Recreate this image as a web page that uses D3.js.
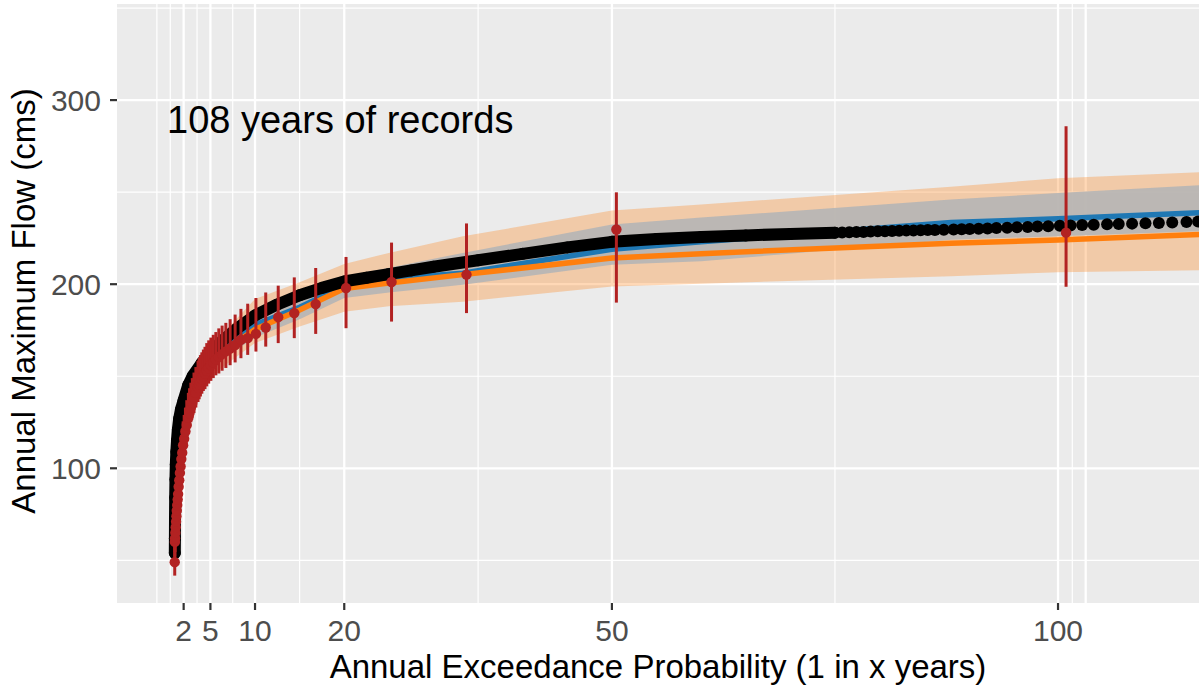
<!DOCTYPE html>
<html>
<head>
<meta charset="utf-8">
<script src="https://cdn.jsdelivr.net/npm/d3@7"></script>
<style>
  body { margin: 0; background: #fff; }
  text { font-family: "Liberation Sans", Arial, sans-serif; }
</style>
</head>
<body>
<svg id="chart" width="1199" height="698"></svg>
<script>
/* axis breaks */
var xBreaks = [2, 5, 10, 20, 50, 100];
var xExtraMajor = [103.1];
var xMinor = [-1, 0.5, 3.5, 7.5, 15, 35, 75, 101.6];
var yBreaks = [100, 200, 300];
var yMinor = [50, 150, 250, 350];

/* fitted curve + confidence bands, at these return periods */
var bandT   = [2, 5, 10, 15, 20, 25, 33.3, 50, 60, 88, 100, 117];
var peachHi = [140, 166, 192, 201, 211, 217, 226, 240, 243.3, 253, 257.5, 261];
var peachLo = [126, 150, 168, 177, 185, 188, 190.5, 198.8, 200.3, 204.3, 206.5, 207.6];
var grayHi  = [138, 164, 185, 194, 204, 209, 217, 232.4, 236.2, 246, 249.5, 254];
var grayLo  = [130, 155, 171, 181, 192.5, 195.5, 199.7, 210.6, 212.4, 224.2, 226, 229];
var blueQ   = [137, 162, 178, 187.5, 199, 203, 206, 219, 223, 233.5, 235.5, 239];
var orangeQ = [134, 159, 175.5, 186, 197.7, 200.6, 205.2, 214.2, 216.6, 222.3, 224, 227.2];

/* black points (return period, flow) */
var blackT = [1.01, 1.02, 1.03, 1.05, 1.08, 1.12, 1.18, 1.25, 1.35, 1.5, 1.7, 2, 2.5, 3, 4, 5, 6.5, 8, 10,
  12.5, 15, 17.5, 20, 22.5, 25, 27.5, 30, 35, 40, 45, 50, 55, 60, 65, 70, 75,
  75.8, 76.6, 77.4, 78.2, 79.0, 79.8, 80.6, 81.4, 82.2, 83.0, 83.8, 84.6, 85.4, 86.2, 87.2,
  88.3, 89.2, 90.1, 91.1, 92.1, 93.1, 94.3, 95.4, 96.6, 97.7, 98.9, 100.2, 101.4, 102.7,
  104.0, 105.5, 106.8, 108.3, 109.8, 111.3, 112.8, 114.4, 115.7];
var blackQ = [54, 62, 72, 84, 94, 102, 109, 115, 121, 127, 132, 137, 145, 150, 157, 163, 170, 176, 183,
  189, 194, 198, 201.5, 203.5, 205.5, 207.5, 209.5, 213, 216.5, 220, 223, 224.5, 225.6, 226.5, 227.3, 228,
  228.1, 228.2, 228.3, 228.4, 228.6, 228.7, 228.8, 228.9, 229.0, 229.1, 229.2, 229.3, 229.4, 229.5, 229.6,
  229.7, 229.8, 230, 230.1, 230.3, 230.5, 230.7, 230.9, 231.1, 231.3, 231.5, 231.7, 231.9, 232.1,
  232.3, 232.5, 232.7, 232.9, 233.1, 233.3, 233.5, 233.8, 234.0];
var blackLineMaxT = 75;

/* red points with error bars */
var redT  = [100.9, 50.5, 33.7, 25.3, 20.2, 16.8, 14.4, 12.6, 11.2, 10.1, 9.18, 8.42,
  7.77, 7.21, 6.73, 6.31, 5.94, 5.61, 5.32, 5.05, 4.81, 4.59, 4.39, 4.21, 4.04, 3.88, 3.74, 3.61,
  3.37, 3.16, 2.97, 2.81, 2.66, 2.53, 2.35, 2.20, 2.06, 1.94, 1.84, 1.74, 1.66, 1.58, 1.51, 1.44,
  1.38, 1.33, 1.28, 1.23, 1.19, 1.15, 1.11, 1.07, 1.04, 1.02, 1.00];
var redQ  = [228, 229.7, 205.2, 201.2, 197.9, 189.2, 184.3, 182.1, 176.5, 173.0, 170.7, 169.8,
  167, 165, 163.5, 162, 160.5, 159, 157.5, 156, 154.5, 153, 151.5, 150, 148.5, 147, 145.5, 144,
  141, 138, 135.5, 133, 130, 127.5, 123.5, 120, 116, 112.5, 108.5, 105, 101, 97.5, 93.5, 90,
  86, 83, 80, 77, 74, 71, 68, 65, 62, 60, 49];
var redLo = [198.6, 190, 184.3, 179.7, 176.1, 173, 170.7, 168.0, 166.1, 163.4, 161.6, 159.8,
  157.5, 156, 154.5, 153, 151.5, 150.5, 149, 147.5, 146, 144.5, 143, 142, 140.5, 139, 137.5, 136,
  133, 130, 127.5, 125, 122, 119.5, 116, 112.5, 108.5, 105, 101, 97.5, 93.5, 90, 86, 82.5,
  78.5, 75.5, 72.5, 69.5, 66.5, 63.5, 60.5, 57.5, 54.5, 52, 41.7];
var redHi = [285.8, 249.9, 233, 222.6, 214.8, 208.8, 203.7, 199.2, 195.5, 192.5, 189.4, 186.6,
  183.5, 181, 179, 177.5, 176, 174, 172.5, 171, 169.5, 168, 166, 164.5, 163, 161.5, 160, 158.5,
  155, 152, 149, 146.5, 143.5, 141, 137, 133, 129, 125.5, 121.5, 118, 114, 110, 106, 102.5,
  98.5, 95.5, 92, 89, 86, 83, 80, 77, 74, 72, 60];

var annotation = "108 years of records";
var xTitle = "Annual Exceedance Probability (1 in x years)";
var yTitle = "Annual Maximum Flow (cms)";

/* LAYOUT */
var svg = d3.select("#chart");
var pLeft = 117, pRight = 1199, pTop = 4, pBottom = 603;

var x = d3.scaleLinear().domain([-5.47, 115.8]).range([pLeft, pRight]);
var y = d3.scaleLinear().domain([26.83, 352.2]).range([pBottom, pTop]);

svg.append("defs").append("clipPath").attr("id", "panel")
  .append("rect").attr("x", pLeft).attr("y", pTop)
  .attr("width", pRight - pLeft).attr("height", pBottom - pTop);

/* PANEL BACKGROUND + GRID */
svg.append("rect").attr("x", pLeft).attr("y", pTop)
  .attr("width", pRight - pLeft).attr("height", pBottom - pTop)
  .attr("fill", "#EBEBEB");

var grid = svg.append("g").attr("clip-path", "url(#panel)");
grid.selectAll(".ymin").data(yMinor).enter().append("line")
  .attr("x1", pLeft).attr("x2", pRight)
  .attr("y1", function(d) { return y(d); }).attr("y2", function(d) { return y(d); })
  .attr("stroke", "#fff").attr("stroke-width", 1.2);
grid.selectAll(".xmin").data(xMinor).enter().append("line")
  .attr("y1", pTop).attr("y2", pBottom)
  .attr("x1", function(d) { return x(d); }).attr("x2", function(d) { return x(d); })
  .attr("stroke", "#fff").attr("stroke-width", 1.2);
grid.selectAll(".ymaj").data(yBreaks).enter().append("line")
  .attr("x1", pLeft).attr("x2", pRight)
  .attr("y1", function(d) { return y(d); }).attr("y2", function(d) { return y(d); })
  .attr("stroke", "#fff").attr("stroke-width", 2.3);
grid.selectAll(".xmaj").data(xBreaks.concat(xExtraMajor)).enter().append("line")
  .attr("y1", pTop).attr("y2", pBottom)
  .attr("x1", function(d) { return x(d); }).attr("x2", function(d) { return x(d); })
  .attr("stroke", "#fff").attr("stroke-width", 2.3);

/* MARKS */
var g = svg.append("g").attr("clip-path", "url(#panel)");

function band(hi, lo) {
  return d3.area()
    .x(function(d, i) { return x(bandT[i]); })
    .y0(function(d, i) { return y(lo[i]); })
    .y1(function(d, i) { return y(hi[i]); })(bandT);
}
function curve(vals) {
  return d3.line()
    .x(function(d, i) { return x(bandT[i]); })
    .y(function(d, i) { return y(vals[i]); })(bandT);
}

g.append("path").attr("d", band(peachHi, peachLo))
  .attr("fill", "#FF7F0E").attr("fill-opacity", 0.3);
g.append("path").attr("d", band(grayHi, grayLo))
  .attr("fill", "#B5B5B5").attr("fill-opacity", 0.9);
g.append("path").attr("d", curve(blueQ))
  .attr("fill", "none").attr("stroke", "#1F78B4").attr("stroke-width", 5.5);
g.append("path").attr("d", curve(orangeQ))
  .attr("fill", "none").attr("stroke", "#FF7F0E").attr("stroke-width", 5.5);

/* black points: dense part overlaps into a thick line */
var blackIdx = d3.range(blackT.length);
var denseIdx = blackIdx.filter(function(i) { return blackT[i] <= blackLineMaxT; });
g.append("path")
  .attr("d", d3.line()
    .x(function(i) { return x(blackT[i]); })
    .y(function(i) { return y(blackQ[i]); })(denseIdx))
  .attr("fill", "none").attr("stroke", "#000").attr("stroke-width", 12)
  .attr("stroke-linecap", "round").attr("stroke-linejoin", "round");
g.selectAll(".bk").data(blackIdx).enter().append("circle")
  .attr("cx", function(i) { return x(blackT[i]); })
  .attr("cy", function(i) { return y(blackQ[i]); })
  .attr("r", 6).attr("fill", "#000");

/* red points + error bars */
var redIdx = d3.range(redT.length).reverse();
g.selectAll(".rbar").data(redIdx).enter().append("line")
  .attr("x1", function(i) { return x(redT[i]); }).attr("x2", function(i) { return x(redT[i]); })
  .attr("y1", function(i) { return y(redLo[i]); }).attr("y2", function(i) { return y(redHi[i]); })
  .attr("stroke", "#B22222").attr("stroke-width", 3);
g.selectAll(".rpt").data(redIdx).enter().append("circle")
  .attr("cx", function(i) { return x(redT[i]); })
  .attr("cy", function(i) { return y(redQ[i]); })
  .attr("r", 5.2).attr("fill", "#B22222");

/* annotation */
svg.append("text").attr("x", 167).attr("y", 133)
  .attr("font-size", "38px").attr("fill", "#000").text(annotation);

/* AXES */
var xt = svg.append("g");
xt.selectAll("line").data(xBreaks).enter().append("line")
  .attr("x1", function(d) { return x(d); }).attr("x2", function(d) { return x(d); })
  .attr("y1", pBottom).attr("y2", pBottom + 7)
  .attr("stroke", "#333").attr("stroke-width", 2.2);
xt.selectAll("text").data(xBreaks).enter().append("text")
  .attr("x", function(d) { return x(d); }).attr("y", 641)
  .attr("text-anchor", "middle").attr("font-size", "30px").attr("fill", "#4D4D4D")
  .text(function(d) { return d; });

var yt = svg.append("g");
yt.selectAll("line").data(yBreaks).enter().append("line")
  .attr("y1", function(d) { return y(d); }).attr("y2", function(d) { return y(d); })
  .attr("x1", pLeft - 7).attr("x2", pLeft)
  .attr("stroke", "#333").attr("stroke-width", 2.2);
yt.selectAll("text").data(yBreaks).enter().append("text")
  .attr("x", 101).attr("y", function(d) { return y(d) + 11; })
  .attr("text-anchor", "end").attr("font-size", "30px").attr("fill", "#4D4D4D")
  .text(function(d) { return d; });

svg.append("text").attr("x", 658).attr("y", 678)
  .attr("text-anchor", "middle").attr("font-size", "33px").attr("fill", "#000")
  .text(xTitle);
svg.append("text").attr("transform", "translate(35,301) rotate(-90)")
  .attr("text-anchor", "middle").attr("font-size", "33px").attr("fill", "#000")
  .text(yTitle);
</script>
</body>
</html>
